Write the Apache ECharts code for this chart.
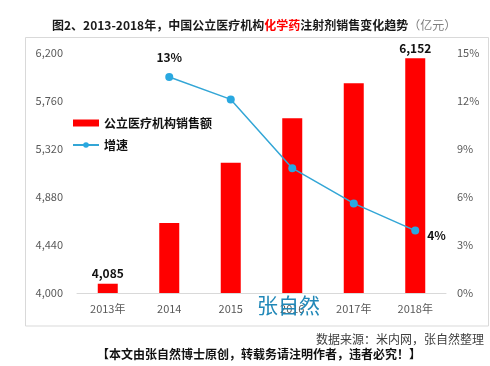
<!DOCTYPE html>
<html>
<head>
<meta charset="utf-8">
<script src="https://cdn.jsdelivr.net/npm/echarts@6/dist/echarts.min.js"></script>
<style>
html,body{margin:0;padding:0;background:#fff;}
#c{width:490px;height:366px;}
</style>
</head>
<body>
<div id="c"></div>
<script>
const categories = ['2013年', '2014', '2015', '2016', '2017年', '2018年'];
const sales = [4085, 4641, 5195, 5601, 5922, 6152];
const growth = [null, 13.5, 12.1, 7.8, 5.6, 3.9];
const leftTicks = [4000, 4440, 4880, 5320, 5760, 6200];
const salesLabelIdx = [0, 5];
const growthLabels = {1: '13%', 5: '4%'};

const FONT = '"Noto Sans CJK SC", "Noto Sans", sans-serif';
const chart = echarts.init(document.getElementById('c'));

const barData = sales.map((v, i) => ({
  value: v,
  label: salesLabelIdx.includes(i) ? {show: true} : {show: false}
}));
const lineData = growth.map((v, i) => {
  if (v === null) return '-';
  const item = {value: v};
  if (growthLabels[i]) {
    item.label = i === 5
      ? {show: true, position: 'right', offset: [3, 5], formatter: growthLabels[i]}
      : {show: true, position: 'top', distance: 10, formatter: growthLabels[i]};
  } else {
    item.label = {show: false};
  }
  return item;
});

chart.setOption({
  backgroundColor: '#fff',
  textStyle: {fontFamily: FONT},
  title: {
    left: 52,
    top: 19,
    padding: 0,
    text: '{a|图2、2013-2018年，中国公立医疗机构}{r|化学药}{a|注射剂销售变化趋势}{g|（亿元）}',
    textStyle: {
      rich: {
        a: {fontFamily: FONT, fontSize: 12, fontWeight: 'bold', color: '#1a1a1a'},
        r: {fontFamily: FONT, fontSize: 12, fontWeight: 'bold', color: '#ff0000'},
        g: {fontFamily: FONT, fontSize: 12, fontWeight: 'normal', color: '#7f7f7f'}
      }
    }
  },
  legend: {
    left: 72,
    top: 117,
    padding: 0,
    orient: 'vertical',
    itemGap: 10,
    textStyle: {fontFamily: FONT, fontSize: 12, fontWeight: 'bold', color: '#111'},
    data: [
      {name: '公立医疗机构销售额', icon: 'rect', itemStyle: {color: '#ff0000'}},
      {name: '增速'}
    ],
    itemWidth: 26,
    itemHeight: 7
  },
  grid: {left: 77, right: 44, top: 53, bottom: 73},
  xAxis: {
    type: 'category',
    data: categories,
    axisLine: {lineStyle: {color: '#d9d9d9'}},
    axisTick: {show: false},
    axisLabel: {color: '#595959', fontSize: 11, margin: 10, fontFamily: FONT}
  },
  yAxis: [
    {
      type: 'value',
      min: 4000,
      max: 6200,
      splitLine: {show: false},
      axisLine: {show: false},
      axisTick: {show: false},
      axisLabel: {
        customValues: leftTicks,
        color: '#595959', fontSize: 11, margin: 14, fontFamily: FONT,
        formatter: v => v.toLocaleString('en-US')
      }
    },
    {
      type: 'value',
      min: 0,
      max: 15,
      interval: 3,
      splitLine: {show: false},
      axisLine: {show: false},
      axisTick: {show: false},
      axisLabel: {color: '#595959', fontSize: 11, margin: 11, fontFamily: FONT, formatter: '{value}%'}
    }
  ],
  series: [
    {
      name: '公立医疗机构销售额',
      type: 'bar',
      data: barData,
      barWidth: 20,
      itemStyle: {color: '#ff0000'},
      label: {
        position: 'top',
        distance: 4,
        color: '#111',
        fontSize: 12,
        fontWeight: 'bold',
        fontFamily: FONT,
        formatter: p => p.value.toLocaleString('en-US')
      }
    },
    {
      name: '增速',
      type: 'line',
      yAxisIndex: 1,
      data: lineData,
      symbol: 'circle',
      symbolSize: 8,
      lineStyle: {color: '#33a6d6', width: 1.5},
      itemStyle: {color: '#29a8e0'},
      label: {color: '#111', fontSize: 12, fontWeight: 'bold', fontFamily: FONT}
    }
  ],
  graphic: [
    {
      type: 'rect', silent: true, z: -1,
      shape: {x: 25.5, y: 37.5, width: 463, height: 288.5},
      style: {fill: 'none', stroke: '#d9d9d9', lineWidth: 1}
    },
    {
      type: 'text', left: 257, top: 295, z: 100,
      style: {text: '张自然', fill: '#2188b8', font: 'normal 21px "Noto Sans CJK SC"'}
    },
    {
      type: 'text', right: 6, top: 333,
      style: {text: '数据来源：米内网，张自然整理', fill: '#404040', font: 'normal 12px "Noto Sans CJK SC"'}
    },
    {
      type: 'text', left: 97, top: 348,
      style: {text: '【本文由张自然博士原创，转载务请注明作者，违者必究！】', fill: '#111', font: 'bold 12px "Noto Sans CJK SC"'}
    }
  ]
});
</script>
</body>
</html>
